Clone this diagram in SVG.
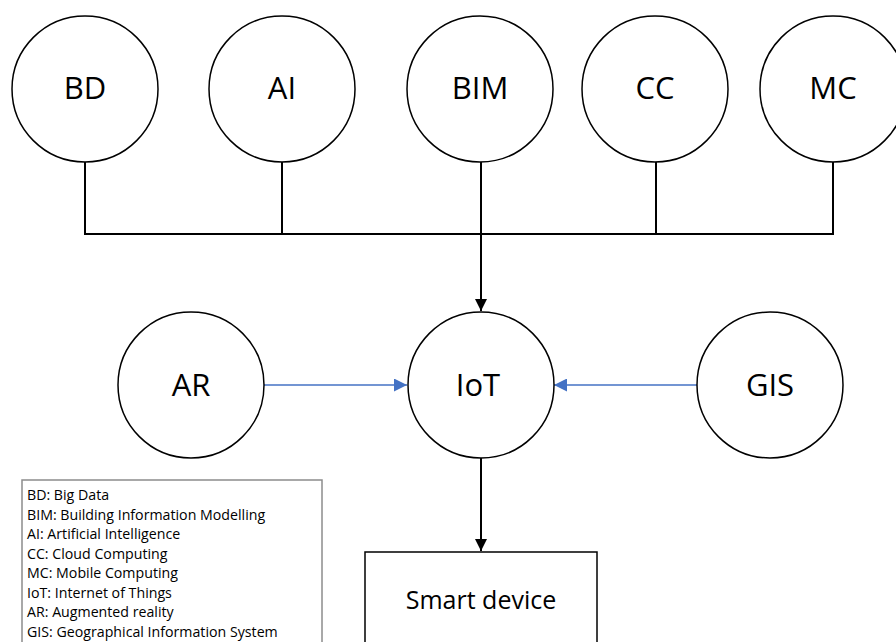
<svg xmlns="http://www.w3.org/2000/svg" width="896" height="642" viewBox="0 0 896 642">
  <style>
    .node { fill: #ffffff; stroke: #000000; stroke-width: 1.5; }
    .label { font-family: "Open Sans", "Liberation Sans", sans-serif; font-size: 31px; fill: #000000; text-anchor: middle; }
    .bus { fill: none; stroke: #000000; stroke-width: 2; }
    .feed { fill: none; stroke: #4472c4; stroke-width: 1.5; }
    .legend-box { fill: #ffffff; stroke: #8c8c8c; stroke-width: 1.5; }
    .legend { font-family: "Open Sans", "Liberation Sans", sans-serif; font-size: 14.2px; fill: #000000; }
  </style>
  <defs>
    <marker id="arrowBlack" viewBox="0 0 12 12" refX="12" refY="6" markerWidth="12" markerHeight="12" markerUnits="userSpaceOnUse" orient="auto">
      <path d="M0,0 L12,6 L0,12 Z" fill="#000000"/>
    </marker>
    <marker id="arrowBlue" viewBox="0 0 12 12" refX="12" refY="6" markerWidth="13" markerHeight="13" markerUnits="userSpaceOnUse" orient="auto">
      <path d="M0,0 L12,6 L0,12 Z" fill="#4472c4"/>
    </marker>
  </defs>

  <rect width="896" height="642" fill="#ffffff"/>

  <!-- connectors -->
  <g id="connectors">
    <path class="bus" d="M85,162 V234 H833 V162"/>
    <path class="bus" d="M282,162 V234"/>
    <path class="bus" d="M656,162 V234"/>
    <path class="bus" d="M481,162 V311" marker-end="url(#arrowBlack)"/>
    <path class="bus" d="M481,458 V551" marker-end="url(#arrowBlack)"/>
    <path class="feed" d="M264,385 H407" marker-end="url(#arrowBlue)"/>
    <path class="feed" d="M697,385 H554" marker-end="url(#arrowBlue)"/>
  </g>

  <!-- top row -->
  <g id="node-bd">
    <circle class="node" cx="85" cy="89" r="73"/>
    <text class="label" x="85" y="99">BD</text>
  </g>
  <g id="node-ai">
    <circle class="node" cx="282" cy="89" r="73"/>
    <text class="label" x="282" y="99">AI</text>
  </g>
  <g id="node-bim">
    <circle class="node" cx="480" cy="89" r="73"/>
    <text class="label" x="480" y="99">BIM</text>
  </g>
  <g id="node-cc">
    <circle class="node" cx="655" cy="89" r="73"/>
    <text class="label" x="655" y="99">CC</text>
  </g>
  <g id="node-mc">
    <circle class="node" cx="833" cy="89" r="73"/>
    <text class="label" x="833" y="99">MC</text>
  </g>

  <!-- middle row -->
  <g id="node-ar">
    <circle class="node" cx="191" cy="385" r="73"/>
    <text class="label" x="191" y="396">AR</text>
  </g>
  <g id="node-iot">
    <circle class="node" cx="481" cy="385" r="73"/>
    <text class="label" x="478" y="396">IoT</text>
  </g>
  <g id="node-gis">
    <circle class="node" cx="770" cy="385" r="73"/>
    <text class="label" x="770" y="396">GIS</text>
  </g>

  <!-- output device -->
  <g id="node-smart-device">
    <rect class="node" x="365" y="552" width="232" height="100"/>
    <text class="label" x="481" y="609" style="font-size:25px">Smart device</text>
  </g>

  <!-- abbreviation key -->
  <g id="legend">
    <rect class="legend-box" x="22" y="480" width="300" height="170"/>
    <text class="legend" x="27" y="500">BD: Big Data</text>
    <text class="legend" x="27" y="519.5">BIM: Building Information Modelling</text>
    <text class="legend" x="27" y="539">AI: Artificial Intelligence</text>
    <text class="legend" x="27" y="558.5">CC: Cloud Computing</text>
    <text class="legend" x="27" y="578">MC: Mobile Computing</text>
    <text class="legend" x="27" y="597.5">IoT: Internet of Things</text>
    <text class="legend" x="27" y="617">AR: Augmented reality</text>
    <text class="legend" x="27" y="636.5">GIS: Geographical Information System</text>
  </g>
</svg>
